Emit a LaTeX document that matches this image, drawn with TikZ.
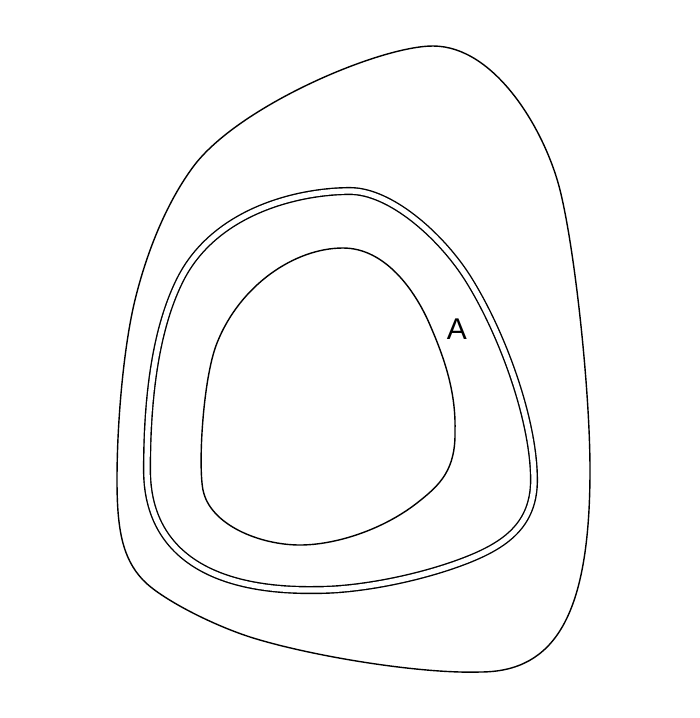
\documentclass[tikz,border=0pt]{standalone}
\usepackage{fontspec}
\setsansfont{Liberation Sans}
\begin{document}
\begin{tikzpicture}[x=1pt,y=-1pt,
  blob/.style={draw=black,line width=1.4pt,line join=round},
  dblob/.style={blob,double=white,double distance=5.3pt}]
\useasboundingbox (0,0) rectangle (700,718);
% outer
\draw[blob] (433,46) .. controls (495,46) and (545,130) .. (560,190)
 .. controls (575,250) and (590,390) .. (590,470)
 .. controls (590,615) and (555,672) .. (480,672)
 .. controls (420,674) and (310,656) .. (250,637)
 .. controls (210,624) and (160,598) .. (143,580)
 .. controls (122.6,558.4) and (117,530) .. (117,480)
 .. controls (117,420) and (124,345) .. (135,300)
 .. controls (146,255) and (165,205) .. (193,167)
 .. controls (238,106) and (380,46) .. cycle;
% middle (double)
\draw[dblob] (350,191) .. controls (390,191) and (440,235) .. (467,277)
 .. controls (502,332) and (534,420) .. (534,480)
 .. controls (534,525) and (505,545) .. (467,560)
 .. controls (421,578) and (360,590) .. (317,590)
 .. controls (200,592) and (147,545) .. (147,470)
 .. controls (147,380) and (160,320) .. (180,280)
 .. controls (215,210) and (300,191) .. cycle;
% inner
\draw[blob] (343,248) .. controls (385,248) and (415,290) .. (430,325)
 .. controls (443,355) and (456,390) .. (455,430)
 .. controls (456,470) and (440,485) .. (417,503)
 .. controls (382.5,530) and (335,545) .. (300,545)
 .. controls (260,545) and (210,525) .. (203,490)
 .. controls (198,465) and (203,378) .. (217,343)
 .. controls (240,285) and (295,248) .. cycle;
\node[font=\sffamily\fontsize{30}{30}\selectfont,inner sep=0pt] (lblA) at (457,329) {A};
\end{tikzpicture}
\end{document}
